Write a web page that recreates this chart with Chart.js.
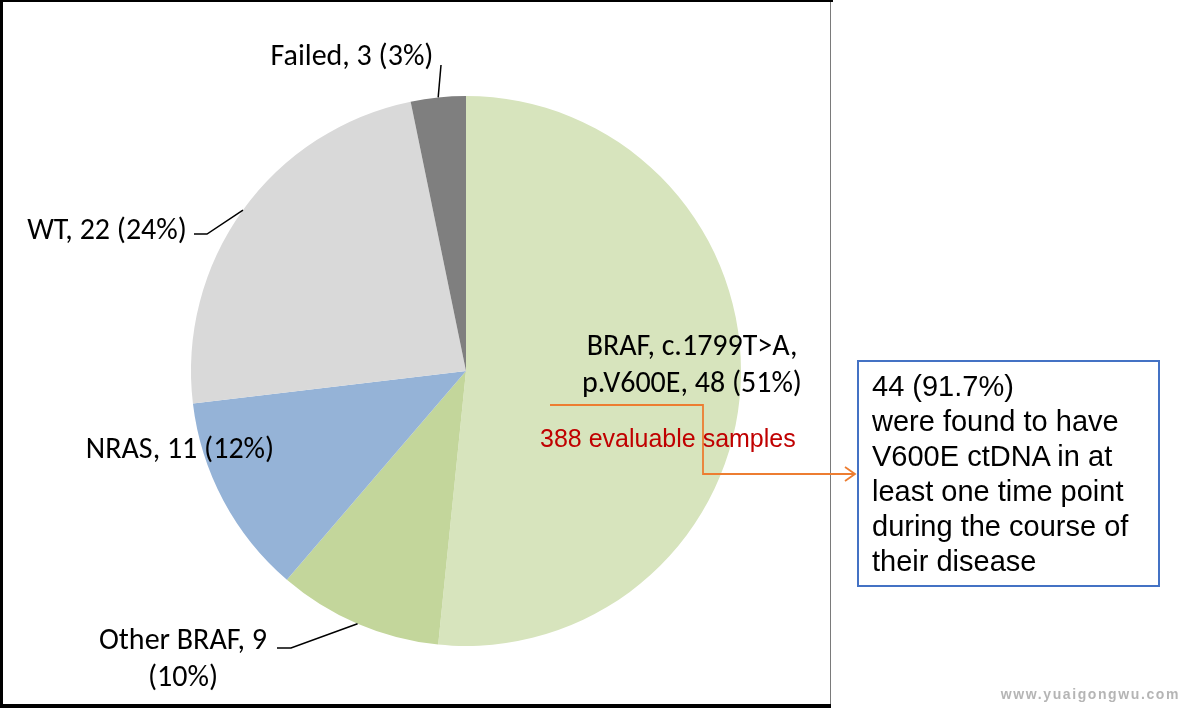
<!DOCTYPE html>
<html>
<head>
<meta charset="utf-8">
<script src="https://cdn.jsdelivr.net/npm/chart.js@4/dist/chart.umd.min.js"></script>
<style>
html,body{margin:0;padding:0;background:#fff;}
#wrap{position:relative;width:1184px;height:708px;overflow:hidden;background:#fff;}
#c{position:absolute;left:0;top:0;}
.lbl{position:absolute;font-family:Carlito,Lato,"Open Sans",sans-serif;font-size:30px;color:#000;white-space:nowrap;transform:translate(-50%,-50%);text-align:center;line-height:37px;}
#red{position:absolute;left:540px;top:438px;transform:translateY(-50%);font-family:"Liberation Sans",Arial,sans-serif;font-size:25px;color:#C00000;white-space:nowrap;}
#box{position:absolute;left:857px;top:360px;width:303px;height:227px;border:2px solid #4472C4;box-sizing:border-box;}
#boxtxt{position:absolute;left:872px;top:369px;font-family:"Liberation Sans",Arial,sans-serif;font-size:29px;line-height:35px;color:#000;white-space:nowrap;}
#wm{position:absolute;right:4px;top:686px;font-family:"Liberation Sans",Arial,sans-serif;font-weight:bold;font-size:14px;letter-spacing:1.6px;color:#b5b5b5;white-space:nowrap;}
</style>
</head>
<body>
<div id="wrap">
<canvas id="c" width="1184" height="708"></canvas>
<div id="box"></div>
<div id="boxtxt"></div>
<div id="red"></div>
<div id="wm">www.yuaigongwu.com</div>
</div>
<script>
// ---- data ----
const categories = ['BRAF, c.1799T>A, p.V600E', 'Other BRAF', 'NRAS', 'WT', 'Failed'];
const counts = [48, 9, 11, 22, 3];
const percentLabels = ['51%', '10%', '12%', '24%', '3%'];
const calloutLines = ['44 (91.7%)', 'were found to have', 'V600E ctDNA in at', 'least one time point', 'during the course of', 'their disease'];
const sampleNote = '388 evaluable samples';

// ---- styles / layout ----
const sliceColors = ['#D7E4BD', '#C3D69B', '#95B3D7', '#D9D9D9', '#7F7F7F'];
const labelLayout = [
  {x: 692, y: 363, breakAfter: 'c.1799T>A,'},
  {x: 183, y: 657, breakAfter: 'Other BRAF, 9'},
  {x: 180, y: 447},
  {x: 107, y: 228},
  {x: 352, y: 54}
];

const wrap = document.getElementById('wrap');
categories.forEach((cat, i) => {
  let txt = `${cat}, ${counts[i]} (${percentLabels[i]})`;
  const L = labelLayout[i];
  const d = document.createElement('div');
  d.className = 'lbl';
  if (L.breakAfter) {
    const k = txt.indexOf(L.breakAfter) + L.breakAfter.length;
    d.appendChild(document.createTextNode(txt.slice(0, k)));
    d.appendChild(document.createElement('br'));
    d.appendChild(document.createTextNode(txt.slice(k).trim()));
  } else {
    d.textContent = txt;
  }
  d.style.left = L.x + 'px';
  d.style.top = L.y + 'px';
  wrap.appendChild(d);
});
document.getElementById('red').textContent = sampleNote;
const bt = document.getElementById('boxtxt');
calloutLines.forEach((l, i) => {
  if (i) bt.appendChild(document.createElement('br'));
  bt.appendChild(document.createTextNode(l));
});

function arcPoint(arc, frac) {
  const a = arc.startAngle + (arc.endAngle - arc.startAngle) * frac;
  return [arc.x + Math.cos(a) * arc.outerRadius, arc.y + Math.sin(a) * arc.outerRadius];
}

const annot = {
  id: 'annot',
  beforeDraw(chart) {
    const ctx = chart.ctx;
    ctx.save();
    ctx.fillStyle = '#000';
    ctx.fillRect(0, 0, 833, 2);
    ctx.fillRect(0, 0, 3, 708);
    ctx.fillRect(0, 704, 831, 4);
    ctx.fillStyle = '#7a7a7a';
    ctx.fillRect(830, 2, 1, 702);
    ctx.restore();
  },
  afterDatasetsDraw(chart) {
    const ctx = chart.ctx;
    const arcs = chart.getDatasetMeta(0).data;
    ctx.save();
    ctx.strokeStyle = '#000';
    ctx.lineWidth = 1.5;
    // Failed leader
    let p = arcPoint(arcs[4], 0.5);
    ctx.beginPath(); ctx.moveTo(441, 65); ctx.lineTo(p[0], p[1]); ctx.stroke();
    // WT leader
    p = arcPoint(arcs[3], 0.5);
    ctx.beginPath(); ctx.moveTo(194, 234); ctx.lineTo(207, 234); ctx.lineTo(p[0], p[1]); ctx.stroke();
    // Other BRAF leader
    p = arcPoint(arcs[1], 0.5);
    ctx.beginPath(); ctx.moveTo(277, 648); ctx.lineTo(291, 648); ctx.lineTo(p[0], p[1]); ctx.stroke();
    // orange connector arrow
    ctx.strokeStyle = '#ED7D31';
    ctx.lineWidth = 1.8;
    ctx.beginPath();
    ctx.moveTo(550, 405); ctx.lineTo(703, 405); ctx.lineTo(703, 474); ctx.lineTo(855, 474);
    ctx.stroke();
    ctx.beginPath();
    ctx.moveTo(845, 467); ctx.lineTo(855, 474); ctx.lineTo(845, 481);
    ctx.stroke();
    ctx.restore();
  }
};

new Chart(document.getElementById('c'), {
  type: 'pie',
  data: {
    labels: categories,
    datasets: [{
      data: counts,
      backgroundColor: sliceColors,
      borderWidth: 0,
      hoverOffset: 0
    }]
  },
  options: {
    responsive: false,
    animation: false,
    layout: {padding: {left: 191, right: 443, top: 96, bottom: 62}},
    plugins: {legend: {display: false}, tooltip: {enabled: false}}
  },
  plugins: [annot]
});
</script>
</body>
</html>
